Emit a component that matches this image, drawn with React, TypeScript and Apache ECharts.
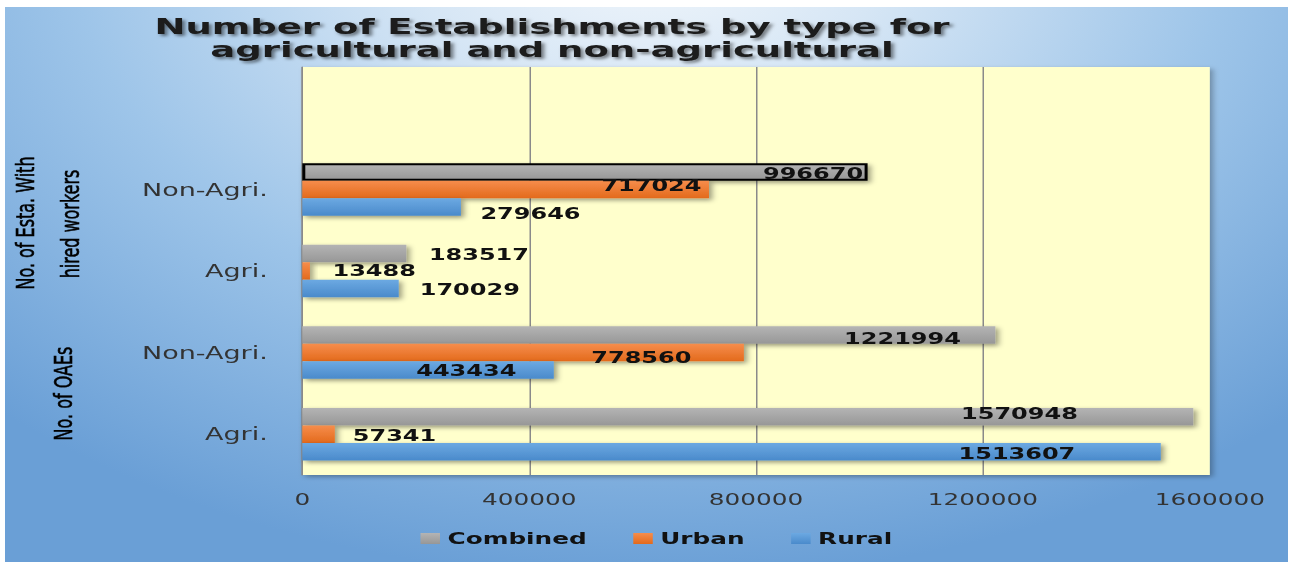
import { useEffect, useRef } from 'react';
import * as echarts from 'echarts';

// ---- data ----
const categories = ['Agri.', 'Non-Agri.', 'Agri.', 'Non-Agri.', ''];
const combined = [1570948, 1221994, 183517, 996670];
const urban = [57341, 778560, 13488, 717024];
const rural = [1513607, 443434, 170029, 279646];
const xTicks = [0, 400000, 800000, 1200000, 1600000];
const seriesNames = ['Combined', 'Urban', 'Rural'];
const titleLines = ['Number of Establishments by type for', 'agricultural and non-agricultural'];
const groupLabels = ['No. of Esta. With', 'hired workers', 'No. of OAEs'];

// ---- label placement (position, dx, dy) ----
const combinedLabelPos: [string, number, number][] = [
  ['insideRight', -72, -3], ['insideRight', -18, 3], ['right', 10, 1], ['insideRight', 2, 2],
];
const urbanLabelPos: [string, number, number][] = [
  ['right', 7, 1], ['insideRight', -30, 5], ['right', 10, 0], ['insideRight', 0, -4],
];
const ruralLabelPos: [string, number, number][] = [
  ['insideRight', -52, 2], ['insideRight', -20, 0], ['right', 9, 1], ['right', 8, 7],
];

const SX = 1.5;
const W = 1295 / SX;
const H = 562;
const FONT = '"DejaVu Sans", "Noto Sans", sans-serif';

export default function App() {
  const ref = useRef<HTMLDivElement>(null);
  useEffect(() => {
    const chart = echarts.init(ref.current!, null, { renderer: 'svg' });
    const grad = (a: string, b: string) =>
      new echarts.graphic.LinearGradient(0, 0, 0, 1, [
        { offset: 0, color: a },
        { offset: 1, color: b },
      ]);
    const mk = (
      name: string,
      values: number[],
      pos: [string, number, number][],
      c1: string,
      c2: string,
      borderIndex: number
    ) => ({
      type: 'bar',
      name,
      barWidth: 17.5,
      barGap: '0%',
      itemStyle: {
        color: grad(c1, c2),
        shadowColor: 'rgba(0,0,0,0.4)',
        shadowBlur: 4,
        shadowOffsetX: 2,
        shadowOffsetY: 2,
      },
      label: {
        show: true,
        fontFamily: FONT,
        fontWeight: 'bold',
        fontSize: 16,
        color: '#111',
        formatter: (p: any) => String(p.value),
      },
      data: values.map((v, i) => ({
        value: v,
        label: { position: pos[i][0], offset: [pos[i][1], pos[i][2]] },
        ...(i === borderIndex
          ? { itemStyle: { borderColor: '#000', borderWidth: 2 } }
          : {}),
      })),
    });

    const bg = new echarts.graphic.RadialGradient(
      433,
      -60,
      640,
      [
        { offset: 0, color: '#F4F8FC' },
        { offset: 0.25, color: '#D6E6F5' },
        { offset: 0.6, color: '#9EC5E9' },
        { offset: 1, color: '#6A9FD6' },
      ],
      true
    );

    const option: any = {
      animation: false,
      grid: {
        left: 302.3 / SX,
        right: W - 1210.3 / SX,
        top: 67,
        bottom: H - 475,
        show: true,
        backgroundColor: '#FFFFCC',
        borderWidth: 0,
        shadowColor: 'rgba(0,0,0,0.3)',
        shadowBlur: 4,
        shadowOffsetX: 2,
        shadowOffsetY: 2,
      },
      legend: {
        data: seriesNames,
        left: 413 / SX,
        top: 525,
        itemWidth: 13,
        itemHeight: 11,
        itemGap: 31,
        icon: 'rect',
        textStyle: { fontFamily: FONT, fontWeight: 'bold', fontSize: 16.5, color: '#111' },
      },
      xAxis: {
        type: 'value',
        min: xTicks[0],
        max: xTicks[xTicks.length - 1],
        interval: xTicks[1] - xTicks[0],
        axisLine: { show: false },
        axisTick: { show: false },
        splitLine: { show: true, showMaxLine: false, lineStyle: { color: '#8a8a8a', width: 1 } },
        axisLabel: {
          margin: 16,
          fontFamily: FONT,
          fontSize: 16.5,
          color: '#333',
          formatter: (v: number) => String(v),
        },
      },
      yAxis: {
        type: 'category',
        data: categories,
        axisLine: { show: true, lineStyle: { color: '#8a8a8a', width: 1 } },
        axisTick: { show: false },
        axisLabel: { margin: 23, fontFamily: FONT, fontSize: 18, color: '#333' },
      },
      graphic: [
        {
          type: 'rect',
          z: -100,
          silent: true,
          shape: { x: 5 / SX, y: 7, width: 1283 / SX, height: 555 },
          style: { fill: bg },
        },
        ...titleLines.map((t, i) => ({
          type: 'text',
          x: 552 / SX,
          y: i === 0 ? 27 : 50,
          scaleX: 1.175,
          style: {
            text: t,
            fontFamily: FONT,
            fontWeight: 'bold',
            fontSize: 21,
            fill: '#1a1a1a',
            align: 'center',
            verticalAlign: 'middle',
            textShadowColor: 'rgba(0,0,0,0.5)',
            textShadowBlur: 3,
            textShadowOffsetX: 2,
            textShadowOffsetY: 2,
          },
        })),
        ...groupLabels.map((t, i) => ({
          type: 'text',
          x: [26, 71, 63.5][i] / SX,
          y: [223, 224, 393.5][i],
          rotation: Math.PI / 2,
          style: {
            text: t,
            fontFamily: FONT,
            fontSize: 16,
            fill: '#000',
            stroke: '#000',
            lineWidth: 0.4,
            align: 'center',
            verticalAlign: 'middle',
          },
        })),
      ],
      series: [
        mk(seriesNames[0], combined, combinedLabelPos, '#B4B4B4', '#979797', 3),
        mk(seriesNames[1], urban, urbanLabelPos, '#F68D4C', '#E36A1C', -1),
        mk(seriesNames[2], rural, ruralLabelPos, '#6CA9E2', '#4A8ACB', -1),
      ],
    };
    chart.setOption(option);
    return () => chart.dispose();
  }, []);
  return (
    <div
      ref={ref}
      style={{
        position: 'absolute',
        left: 0,
        top: 0,
        width: W,
        height: H,
        transform: `scaleX(${SX})`,
        transformOrigin: '0 0',
      }}
    />
  );
}
